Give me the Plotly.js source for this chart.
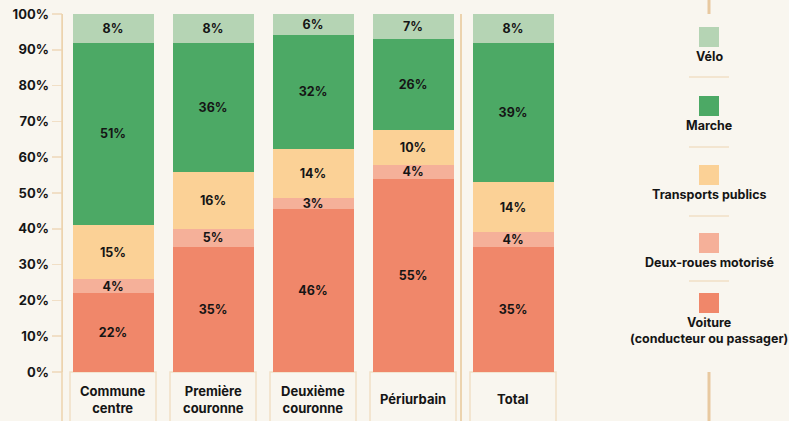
<!DOCTYPE html>
<html><head><meta charset="utf-8">
<script src="https://cdn.plot.ly/plotly-3.0.1.min.js"></script>
<style>html,body{margin:0;padding:0;background:#f9f6ef;} #chart{width:789px;height:421px;}</style>
</head><body><div id="chart"></div>
<script>
// ---- data ----
const categories = ['Commune centre','Première couronne','Deuxième couronne','Périurbain','Total'];
const categoryLabels = ['Commune<br>centre','Première<br>couronne','Deuxième<br>couronne','Périurbain','Total'];
const modeNames = ['Voiture<br>(conducteur ou passager)','Deux-roues motorisé','Transports publics','Marche','Vélo'];
const voiture = [22,35,46,55,35];
const deuxRoues = [4,5,3,4,4];
const transports = [15,16,14,10,14];
const marche = [51,36,32,26,39];
const velo = [8,8,6,7,8];
const modeColors = ['#f0876a','#f5b099','#fbd196','#4ca965','#b5d4b4'];
const yTickValues = [0,10,20,30,40,50,60,70,80,90,100];

// ---- layout helpers ----
const W = 789, H = 421;
const M = {l:63, r:226, t:14, b:49};
const PW = W - M.l - M.r, PH = H - M.t - M.b;
const px = x => (x - M.l) / PW;
const py = y => (H - M.b - y) / PH;
const FONT = 'Inter, "Noto Sans", sans-serif';
const INK = '#151515';
const TAN = '#ecd3ae';
const TAN_LIGHT = '#f1dfc6';
const BG = '#f9f6ef';

const series = [voiture, deuxRoues, transports, marche, velo];
const traces = series.map((vals, i) => ({
  type: 'bar',
  name: modeNames[i],
  x: categories,
  y: vals,
  text: vals.map(v => v + '%'),
  textposition: 'inside',
  insidetextanchor: 'middle',
  textfont: {family: FONT, size: 12.5, color: INK, weight: 700},
  marker: {color: modeColors[i], line: {width: 0}},
  hoverinfo: 'skip'
}));

const shapes = [];
const annotations = [];

// category boxes + labels
categories.forEach((c, i) => {
  shapes.push({type:'rect', xref:'x', yref:'paper', x0:i-0.43, x1:i+0.43, y0:py(372), y1:py(440),
    line:{color:TAN_LIGHT, width:1.5}, fillcolor:BG, layer:'below'});
  annotations.push({xref:'x', yref:'paper', x:c, y:py(399), yanchor:'middle', xanchor:'center',
    text:categoryLabels[i], showarrow:false, font:{family:FONT, size:13, color:INK, weight:700}});
});

// separator between Périurbain and Total
shapes.push({type:'line', xref:'paper', yref:'paper', x0:px(461), x1:px(461), y0:py(14), y1:py(430),
  line:{color:TAN, width:2}});
// extension of y axis line below plot
shapes.push({type:'line', xref:'paper', yref:'paper', x0:px(62), x1:px(62), y0:py(14), y1:py(430),
  line:{color:TAN, width:1.5}});

// legend column
const legendX = 709;
shapes.push({type:'line', xref:'paper', yref:'paper', x0:px(legendX), x1:px(legendX), y0:py(-5), y1:py(14),
  line:{color:'#e8c9a0', width:3}});
shapes.push({type:'line', xref:'paper', yref:'paper', x0:px(legendX), x1:px(legendX), y0:py(372), y1:py(430),
  line:{color:'#e8c9a0', width:3}});
const swatchTops = [293, 233, 165, 96, 27]; // per mode index (voiture..vélo)
modeNames.forEach((n, i) => {
  const t = swatchTops[i];
  shapes.push({type:'rect', xref:'paper', yref:'paper', x0:px(legendX-10), x1:px(legendX+10), y0:py(t), y1:py(t+20),
    line:{width:0}, fillcolor:modeColors[i]});
  annotations.push({xref:'paper', yref:'paper', x:px(legendX), y:py(t+20), yanchor:'top', xanchor:'center',
    text:n, showarrow:false, font:{family:FONT, size:12.5, color:INK, weight:700}});
});
[77, 147, 216, 281].forEach(y => {
  shapes.push({type:'line', xref:'paper', yref:'paper', x0:px(legendX-20), x1:px(legendX+20), y0:py(y), y1:py(y),
    line:{color:TAN_LIGHT, width:1.5}});
});

const layout = {
  width: W, height: H,
  margin: M,
  paper_bgcolor: BG, plot_bgcolor: BG,
  barmode: 'stack', barnorm: 'percent', bargap: 0.19,
  showlegend: false,
  uniformtext: {mode:'show', minsize:12.5},
  xaxis: {type:'category', showticklabels:false, showgrid:false, zeroline:false, showline:false, ticks:'',
    range:[-0.5, 4.5], fixedrange:true},
  yaxis: {range:[0,100], tickvals:yTickValues, ticktext:yTickValues.map(v => v + '%'),
    showgrid:false, zeroline:false, showline:true, linecolor:TAN, linewidth:1.5,
    ticks:'outside', ticklen:10, tickwidth:1.5, tickcolor:TAN_LIGHT,
    tickfont:{family:FONT, size:13, color:INK, weight:700}, fixedrange:true},
  shapes: shapes,
  annotations: annotations,
  font: {family: FONT}
};

Plotly.newPlot('chart', traces, layout, {displayModeBar:false, staticPlot:true});
</script></body></html>
